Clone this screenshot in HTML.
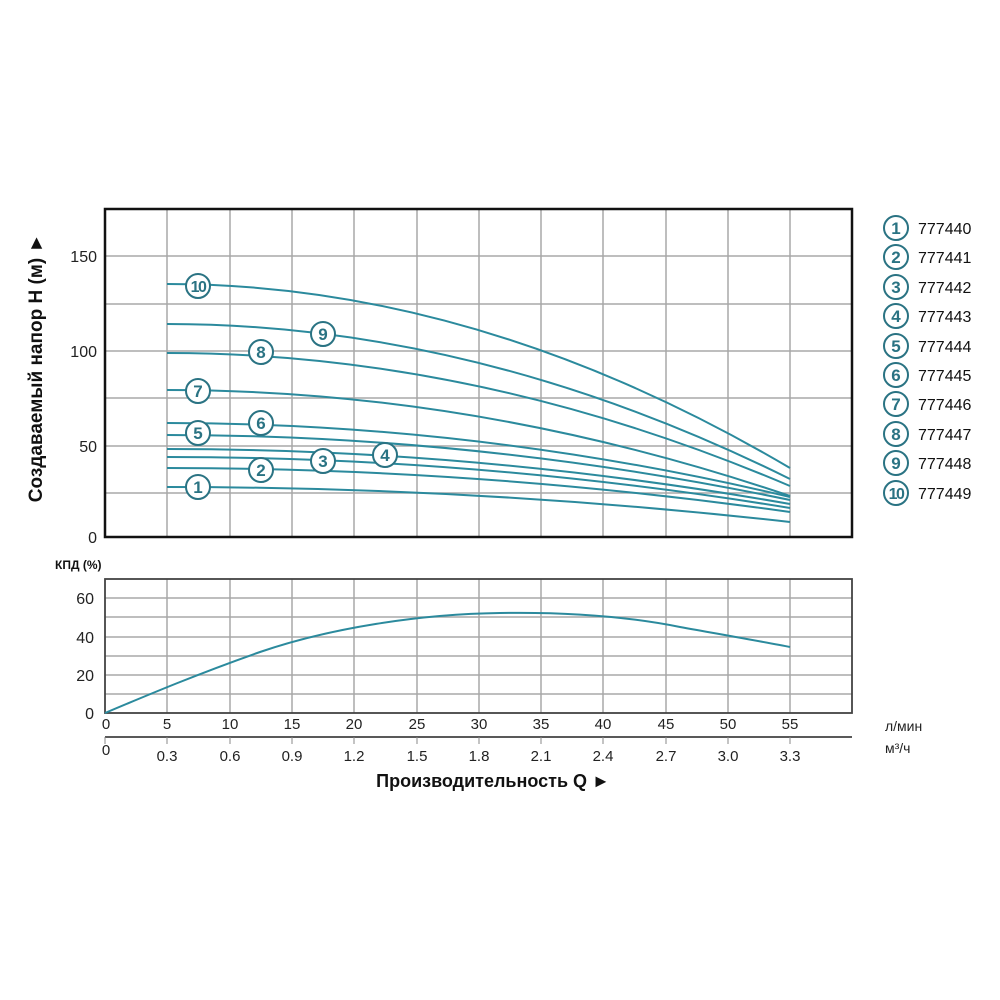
<!DOCTYPE html>
<html><head><meta charset="utf-8"><style>
html,body{margin:0;padding:0;background:#fff;}
svg{display:block;}
text{font-family:"Liberation Sans",sans-serif;}
</style></head><body>
<svg width="1000" height="1000" viewBox="0 0 1000 1000" xmlns="http://www.w3.org/2000/svg">
<rect width="1000" height="1000" fill="#fff"/>
<g stroke="#a8a8a8" stroke-width="1.5">
<line x1="167" y1="209" x2="167" y2="537"/><line x1="230" y1="209" x2="230" y2="537"/>
<line x1="292" y1="209" x2="292" y2="537"/><line x1="354" y1="209" x2="354" y2="537"/>
<line x1="417" y1="209" x2="417" y2="537"/><line x1="479" y1="209" x2="479" y2="537"/>
<line x1="541" y1="209" x2="541" y2="537"/><line x1="603" y1="209" x2="603" y2="537"/>
<line x1="666" y1="209" x2="666" y2="537"/><line x1="728" y1="209" x2="728" y2="537"/>
<line x1="790" y1="209" x2="790" y2="537"/>
<line x1="105" y1="256" x2="852" y2="256"/><line x1="105" y1="304" x2="852" y2="304"/>
<line x1="105" y1="351" x2="852" y2="351"/><line x1="105" y1="398" x2="852" y2="398"/>
<line x1="105" y1="446" x2="852" y2="446"/><line x1="105" y1="493" x2="852" y2="493"/>
</g>
<rect x="105" y="209" width="747" height="328" fill="none" stroke="#111" stroke-width="2.5"/>
<g font-size="16" fill="#222" text-anchor="end">
<text x="97" y="262">150</text><text x="97" y="357">100</text><text x="97" y="452">50</text><text x="97" y="543">0</text>
</g>
<text transform="translate(42,368) rotate(-90)" text-anchor="middle" font-size="19" font-weight="bold" fill="#111">Создаваемый напор H (м) ►</text>
<g fill="none" stroke="#2b8a9d" stroke-width="2">
<path d="M167,284 Q478,284 790,468"/>
<path d="M167,324 Q478,324 790,479"/>
<path d="M167,353 Q478,353 790,486"/>
<path d="M167,390 Q478,390 790,496"/>
<path d="M167,423 Q478,423 790,497"/>
<path d="M167,435 Q478,435 790,500"/>
<path d="M167,449 Q478,449 790,504"/>
<path d="M167,457 Q478,457 790,508"/>
<path d="M167,468 Q478,468 790,512"/>
<path d="M167,487 Q478,487 790,522"/>
</g>
<g fill="#fff" stroke="#2a7383" stroke-width="2">
<circle cx="198" cy="286" r="12"/><circle cx="323" cy="334" r="12"/><circle cx="261" cy="352" r="12"/>
<circle cx="198" cy="391" r="12"/><circle cx="261" cy="423" r="12"/><circle cx="198" cy="433" r="12"/>
<circle cx="385" cy="455" r="12"/><circle cx="323" cy="461" r="12"/><circle cx="261" cy="470" r="12"/>
<circle cx="198" cy="487" r="12"/>
</g>
<g fill="#2a7383" font-size="17" font-weight="bold" text-anchor="middle">
<text x="198" y="292" letter-spacing="-1.5" font-size="16">10</text><text x="323" y="340">9</text><text x="261" y="358">8</text>
<text x="198" y="397">7</text><text x="261" y="429">6</text><text x="198" y="439">5</text>
<text x="385" y="461">4</text><text x="323" y="467">3</text><text x="261" y="476">2</text>
<text x="198" y="493">1</text>
</g>
<g fill="#fff" stroke="#2a7383" stroke-width="2">
<circle cx="896" cy="228" r="12"/><circle cx="896" cy="257" r="12"/><circle cx="896" cy="287" r="12"/>
<circle cx="896" cy="316" r="12"/><circle cx="896" cy="346" r="12"/><circle cx="896" cy="375" r="12"/>
<circle cx="896" cy="404" r="12"/><circle cx="896" cy="434" r="12"/><circle cx="896" cy="463" r="12"/>
<circle cx="896" cy="493" r="12"/>
</g>
<g fill="#2a7383" font-size="17" font-weight="bold" text-anchor="middle">
<text x="896" y="234">1</text><text x="896" y="263">2</text><text x="896" y="293">3</text><text x="896" y="322">4</text>
<text x="896" y="352">5</text><text x="896" y="381">6</text><text x="896" y="410">7</text><text x="896" y="440">8</text>
<text x="896" y="469">9</text><text x="896" y="499" letter-spacing="-1.5" font-size="16">10</text>
</g>
<g fill="#111" font-size="16">
<text x="918" y="234">777440</text><text x="918" y="263">777441</text><text x="918" y="293">777442</text>
<text x="918" y="322">777443</text><text x="918" y="352">777444</text><text x="918" y="381">777445</text>
<text x="918" y="410">777446</text><text x="918" y="440">777447</text><text x="918" y="469">777448</text>
<text x="918" y="499">777449</text>
</g>
<text x="55" y="569" font-size="12" font-weight="bold" fill="#111">КПД (%)</text>
<g stroke="#a8a8a8" stroke-width="1.5">
<line x1="167" y1="579" x2="167" y2="713"/><line x1="230" y1="579" x2="230" y2="713"/>
<line x1="292" y1="579" x2="292" y2="713"/><line x1="354" y1="579" x2="354" y2="713"/>
<line x1="417" y1="579" x2="417" y2="713"/><line x1="479" y1="579" x2="479" y2="713"/>
<line x1="541" y1="579" x2="541" y2="713"/><line x1="603" y1="579" x2="603" y2="713"/>
<line x1="666" y1="579" x2="666" y2="713"/><line x1="728" y1="579" x2="728" y2="713"/>
<line x1="790" y1="579" x2="790" y2="713"/>
<line x1="105" y1="598" x2="852" y2="598"/><line x1="105" y1="617" x2="852" y2="617"/>
<line x1="105" y1="637" x2="852" y2="637"/><line x1="105" y1="656" x2="852" y2="656"/>
<line x1="105" y1="675" x2="852" y2="675"/><line x1="105" y1="694" x2="852" y2="694"/>
</g>
<rect x="105" y="579" width="747" height="134" fill="none" stroke="#444" stroke-width="1.8"/>
<path d="M105,713 C150,694 200,673 260,652 C330,628 420,614 500,613 C560,612 620,615 680,627 C730,636 770,643 790,647" fill="none" stroke="#2b8a9d" stroke-width="2"/>
<g font-size="16" fill="#222" text-anchor="end">
<text x="94" y="604">60</text><text x="94" y="643">40</text><text x="94" y="681">20</text><text x="94" y="719">0</text>
</g>
<g font-size="15" fill="#222" text-anchor="middle">
<text x="106" y="729">0</text><text x="167" y="729">5</text><text x="230" y="729">10</text><text x="292" y="729">15</text>
<text x="354" y="729">20</text><text x="417" y="729">25</text><text x="479" y="729">30</text><text x="541" y="729">35</text>
<text x="603" y="729">40</text><text x="666" y="729">45</text><text x="728" y="729">50</text><text x="790" y="729">55</text>
</g>
<line x1="105" y1="737" x2="852" y2="737" stroke="#222" stroke-width="1.5"/>
<g stroke="#888" stroke-width="1">
<line x1="105" y1="737" x2="105" y2="744"/><line x1="167" y1="737" x2="167" y2="744"/><line x1="230" y1="737" x2="230" y2="744"/>
<line x1="292" y1="737" x2="292" y2="744"/><line x1="354" y1="737" x2="354" y2="744"/><line x1="417" y1="737" x2="417" y2="744"/>
<line x1="479" y1="737" x2="479" y2="744"/><line x1="541" y1="737" x2="541" y2="744"/><line x1="603" y1="737" x2="603" y2="744"/>
<line x1="666" y1="737" x2="666" y2="744"/><line x1="728" y1="737" x2="728" y2="744"/><line x1="790" y1="737" x2="790" y2="744"/>
</g>
<g font-size="15" fill="#222" text-anchor="middle">
<text x="106" y="755">0</text><text x="167" y="761">0.3</text><text x="230" y="761">0.6</text><text x="292" y="761">0.9</text>
<text x="354" y="761">1.2</text><text x="417" y="761">1.5</text><text x="479" y="761">1.8</text><text x="541" y="761">2.1</text>
<text x="603" y="761">2.4</text><text x="666" y="761">2.7</text><text x="728" y="761">3.0</text><text x="790" y="761">3.3</text>
</g>
<text x="885" y="731" font-size="14" fill="#222">л/мин</text>
<text x="885" y="753" font-size="14" fill="#222">м³/ч</text>
<text x="493" y="787" text-anchor="middle" font-size="18" font-weight="bold" fill="#111">Производительность Q ►</text>
</svg>
</body></html>
